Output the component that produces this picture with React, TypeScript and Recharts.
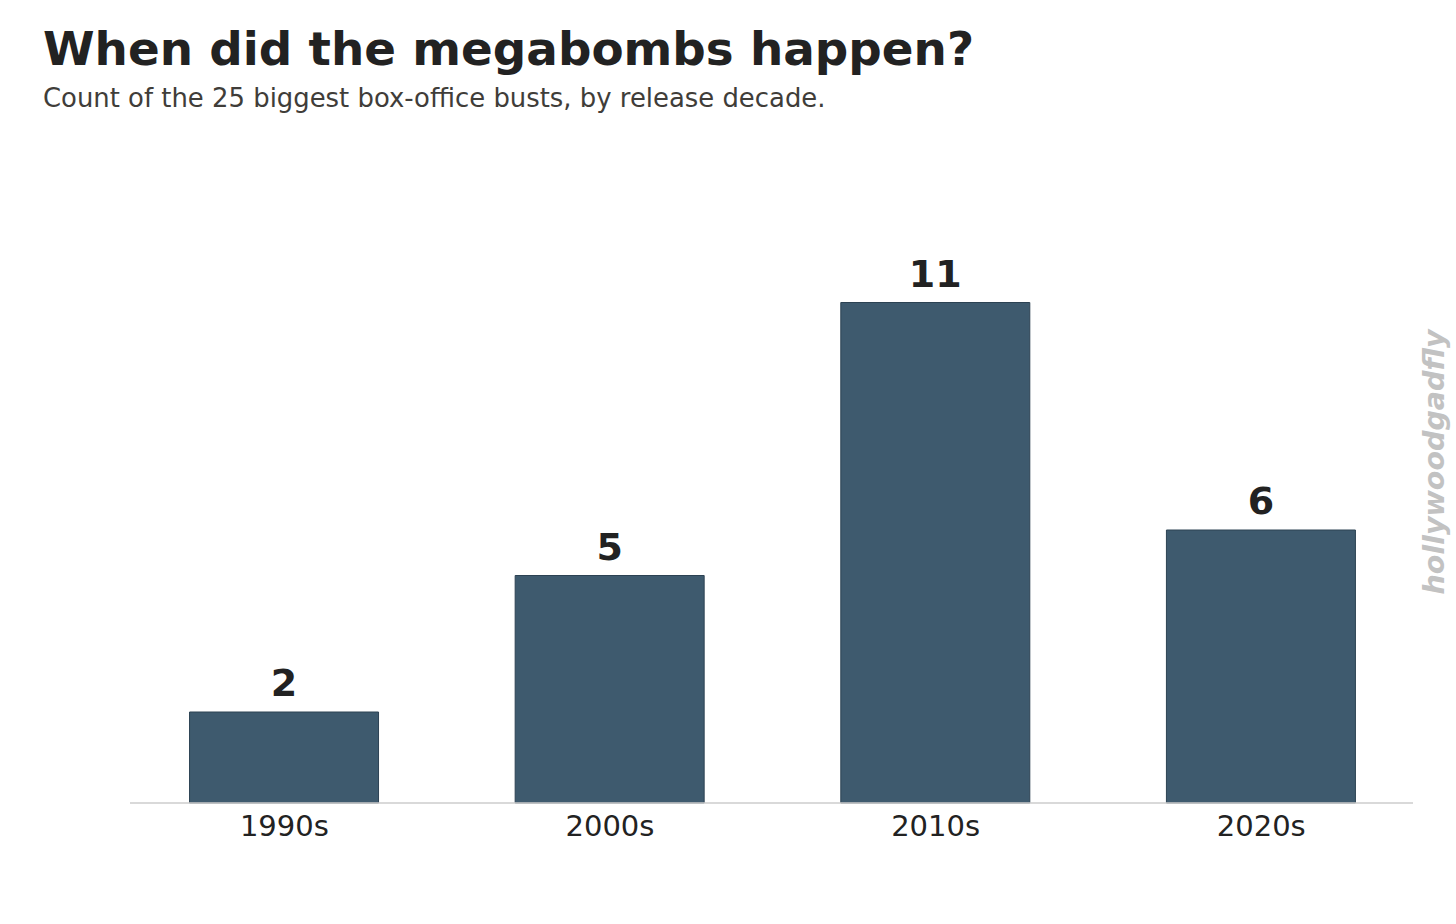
import { BarChart, Bar, XAxis, YAxis, LabelList } from 'recharts';

const decades = ['1990s', '2000s', '2010s', '2020s'];
const counts = [2, 5, 11, 6];

const data = decades.map((decade, i) => ({ x: i, decade, count: counts[i] }));

const FONT = '"DejaVu Sans", Verdana, sans-serif';

export default function App() {
  return (
    <div
      style={{
        position: 'absolute',
        left: 0,
        top: 0,
        width: 1456,
        height: 924,
        background: '#ffffff',
        fontFamily: FONT,
        overflow: 'hidden',
      }}
    >
      <div
        style={{
          position: 'absolute',
          left: 43,
          top: 21,
          fontSize: 46.8,
          fontWeight: 'bold',
          color: '#222222',
          lineHeight: '56px',
          whiteSpace: 'nowrap',
        }}
      >
        When did the megabombs happen?
      </div>
      <div
        style={{
          position: 'absolute',
          left: 43,
          top: 83,
          fontSize: 25.9,
          color: '#403d39',
          lineHeight: '30px',
          whiteSpace: 'nowrap',
        }}
      >
        Count of the 25 biggest box-office busts, by release decade.
      </div>
      <div
        style={{
          position: 'absolute',
          left: 1434,
          top: 462,
          transform: 'translate(-50%, -50%) rotate(-90deg)',
          fontSize: 28.5,
          fontWeight: 'bold',
          fontStyle: 'italic',
          color: '#c2c2c2',
          whiteSpace: 'nowrap',
        }}
      >
        hollywoodgadfly
      </div>
      <div style={{ position: 'absolute', left: 0, top: 0 }}>
        <BarChart
          width={1456}
          height={924}
          data={data}
          margin={{ top: 257, right: 43, left: 130, bottom: 81 }}
        >
          <XAxis
            type='number'
            dataKey='x'
            domain={[-0.474, 3.466]}
            ticks={[0, 1, 2, 3]}
            tickFormatter={(v) => decades[v]}
            height={40}
            axisLine={{ stroke: '#cccccc', strokeWidth: 1.5 }}
            tickLine={false}
            tick={{ fill: '#222222', fontSize: 29, fontFamily: FONT, dy: 4 }}
            allowDataOverflow
          />
          <YAxis type='number' domain={[0, 12]} hide />
          <Bar
            dataKey='count'
            fill='#3e5a6e'
            stroke='#2c4253'
            strokeWidth={1}
            barSize={189}
            isAnimationActive={false}
          >
            <LabelList
              dataKey='count'
              position='top'
              offset={16}
              style={{ fill: '#222222', fontSize: 38, fontWeight: 'bold', fontFamily: FONT }}
            />
          </Bar>
        </BarChart>
      </div>
    </div>
  );
}
